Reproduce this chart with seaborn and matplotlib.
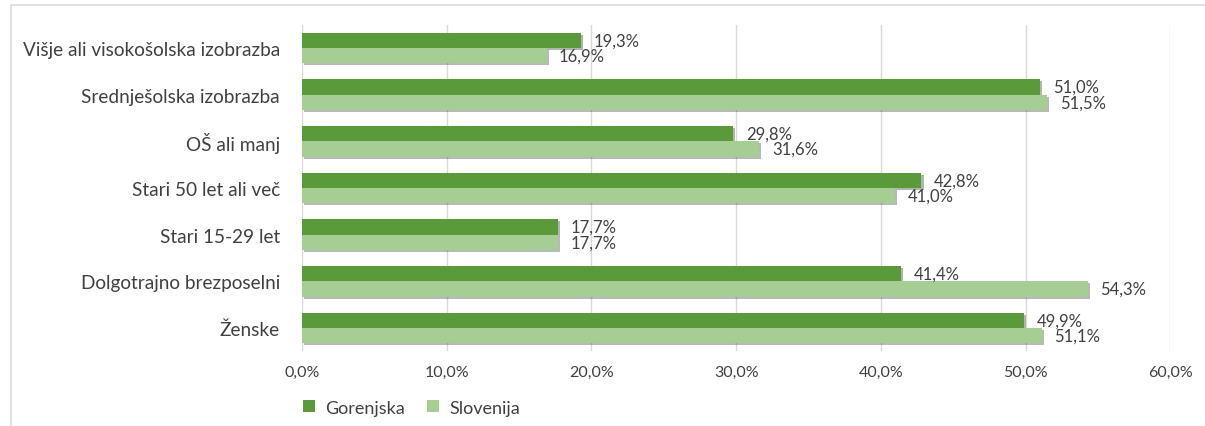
import pandas as pd
import matplotlib.pyplot as plt
import matplotlib.patheffects as pe
from matplotlib.patches import Rectangle
from matplotlib.ticker import FuncFormatter
import seaborn as sns

# podatki
categories = ['Višje ali visokošolska izobrazba', 'Srednješolska izobrazba', 'OŠ ali manj',
              'Stari 50 let ali več', 'Stari 15-29 let', 'Dolgotrajno brezposelni', 'Ženske']
gorenjska = [19.3, 51.0, 29.8, 42.8, 17.7, 41.4, 49.9]
slovenija = [16.9, 51.5, 31.6, 41.0, 17.7, 54.3, 51.1]
series = ['Gorenjska', 'Slovenija']
colors = ['#5b9a3a', '#a6cd93']

df = pd.DataFrame({
    'kategorija': categories * 2,
    'delez': gorenjska + slovenija,
    'obmocje': [series[0]] * len(categories) + [series[1]] * len(categories),
})

sns.set_style('white')
plt.rcParams['font.family'] = ['Lato', 'DejaVu Sans']
text_color = '#404040'

fig = plt.figure(figsize=(12.05, 4.27), dpi=100)
ax = fig.add_axes([0.2506, 0.175, 0.7207, 0.765])

sns.barplot(data=df, y='kategorija', x='delez', hue='obmocje', order=categories,
            hue_order=series, palette=colors, orient='h', width=0.66, ax=ax,
            saturation=1, edgecolor='none')

shadow = [pe.SimplePatchShadow(offset=(1.5, -1.5), alpha=0.35), pe.Normal()]
for cont, vals in zip(ax.containers, [gorenjska, slovenija]):
    for bar in cont:
        bar.set_path_effects(shadow)
    ax.bar_label(cont, labels=[f'{v:.1f}%'.replace('.', ',') for v in vals],
                 padding=9, fontsize=12, color=text_color)

ax.set_xlim(0, 60)
ax.set_xticks(range(0, 61, 10))
ax.xaxis.set_major_formatter(FuncFormatter(lambda v, p: f'{v:.1f}%'.replace('.', ',')))
ax.grid(axis='x', color='#d9d9d9', linewidth=1)
ax.set_axisbelow(True)
for s in ax.spines.values():
    s.set_visible(False)
ax.tick_params(axis='x', length=0, labelsize=11.5, labelcolor=text_color, pad=10)
ax.tick_params(axis='y', length=0, labelsize=13.7, labelcolor=text_color, pad=16)
ax.set_xlabel('')
ax.set_ylabel('')

ax.legend(loc='lower left', bbox_to_anchor=(0.238, -0.014), bbox_transform=fig.transFigure,
          ncol=2, frameon=False, fontsize=13, labelcolor=text_color,
          handlelength=0.65, handleheight=0.65, handletextpad=0.6, columnspacing=1.2)

# okvir grafa
fig.add_artist(Rectangle((11 / 1205, -0.05), 1.1, 1.05 - 6 / 427, transform=fig.transFigure,
                         fill=False, edgecolor='#d9d9d9', linewidth=1.2))

plt.savefig('out.png', dpi=100)
